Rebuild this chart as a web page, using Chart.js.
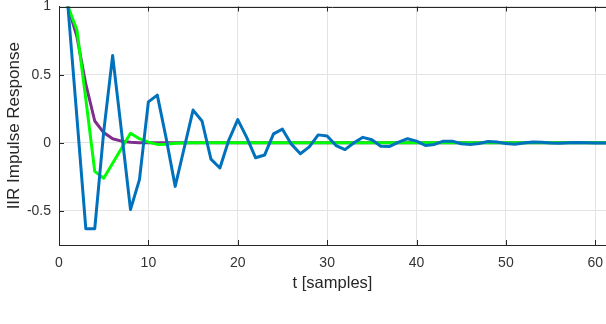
<!DOCTYPE html>
<html>
<head>
<meta charset="utf-8">
<script src="https://cdn.jsdelivr.net/npm/chart.js@4.4.1/dist/chart.umd.min.js"></script>
<style>
  html, body { margin: 0; padding: 0; background: #ffffff; }
  #wrap { width: 606px; height: 324px; }
</style>
</head>
<body>
<div id="wrap"><canvas id="c" width="606" height="324"></canvas></div>
<script>
// sample index (t)
const samples = [1,2,3,4,5,6,7,8,9,10,11,12,13,14,15,16,17,18,19,20,21,22,23,24,25,26,27,28,29,30,31,32,33,34,35,36,37,38,39,40,41,42,43,44,45,46,47,48,49,50,51,52,53,54,55,56,57,58,59,60,61,62];

// blue (oscillating) impulse response
const blueResponse = [1, 0.19, -0.63, -0.63, 0.08, 0.64, 0.08, -0.49, -0.27, 0.30,
  0.35, 0.03, -0.32, -0.04, 0.24, 0.16, -0.12, -0.185, 0.02, 0.17,
  0.04, -0.11, -0.09, 0.065, 0.10, -0.01, -0.08, -0.03, 0.058, 0.05,
  -0.02, -0.05, 0.0, 0.04, 0.022, -0.025, -0.027, 0.005, 0.03, 0.012,
  -0.02, -0.012, 0.012, 0.012, -0.007, -0.012, -0.005, 0.01, 0.006, -0.006,
  -0.01, -0.002, 0.005, 0.004, -0.002, -0.004, 0, 0.003, 0.001, -0.002,
  -0.001, 0];

// green impulse response
const greenResponse = [1, 0.83, 0.32, -0.21, -0.26, -0.15, -0.04, 0.07, 0.03, 0.005,
  -0.012, -0.01, -0.004, -0.001, 0, 0, 0, 0, 0, 0,
  0, 0, 0, 0, 0, 0, 0, 0, 0, 0,
  0, 0, 0, 0, 0, 0, 0, 0, 0, 0,
  0, 0, 0, 0, 0, 0, 0, 0, 0, 0,
  0, 0, 0, 0, 0, 0, 0, 0, 0, 0,
  0, 0];

// purple impulse response
const purpleResponse = [1, 0.78, 0.43, 0.16, 0.075, 0.03, 0.012, 0.004, 0.001, 0,
  0, 0, 0, 0, 0, 0, 0, 0, 0, 0,
  0, 0, 0, 0, 0, 0, 0, 0, 0, 0,
  0, 0, 0, 0, 0, 0, 0, 0, 0, 0,
  0, 0, 0, 0, 0, 0, 0, 0, 0, 0,
  0, 0, 0, 0, 0, 0, 0, 0, 0, 0,
  0, 0];

const xTickValues = [0, 10, 20, 30, 40, 50, 60];
const yTickValues = [-0.5, 0, 0.5, 1];

const toPoints = (ys) => samples.map((t, i) => ({ x: t, y: ys[i] }));

const axisColor = '#262626';
const gridColor = '#e3e3e3';
const font = "'Liberation Sans', Arial, Helvetica, sans-serif";

// inward tick marks and top box line, positioned through the scales
const boxTicks = {
  id: 'boxTicks',
  afterDatasetsDraw(chart) {
    const { ctx, chartArea: a, scales: { x, y } } = chart;
    ctx.save();
    ctx.strokeStyle = axisColor;
    ctx.lineWidth = 1;
    ctx.beginPath();
    const topY = Math.round(a.top) + 0.5;
    ctx.moveTo(a.left, topY); ctx.lineTo(a.right, topY);
    const len = 5;
    xTickValues.forEach(v => {
      const px = Math.round(x.getPixelForValue(v)) + 0.5;
      ctx.moveTo(px, a.bottom); ctx.lineTo(px, a.bottom - len);
      ctx.moveTo(px, a.top); ctx.lineTo(px, a.top + len);
    });
    yTickValues.forEach(v => {
      const py = Math.round(y.getPixelForValue(v)) + 0.5;
      ctx.moveTo(a.left, py); ctx.lineTo(a.left + len, py);
    });
    ctx.stroke();
    ctx.restore();
  }
};

new Chart(document.getElementById('c'), {
  type: 'line',
  data: {
    datasets: [
      { data: toPoints(blueResponse), borderColor: '#0072BD', borderWidth: 3, order: 0 },
      { data: toPoints(greenResponse), borderColor: '#00FF00', borderWidth: 3, order: 1 },
      { data: toPoints(purpleResponse), borderColor: '#7E2F8E', borderWidth: 3, order: 2 }
    ]
  },
  options: {
    responsive: false,
    animation: false,
    devicePixelRatio: 1,
    layout: { padding: { top: 6.5, right: 0, bottom: 0, left: 0 } },
    elements: {
      point: { radius: 0, hoverRadius: 0 },
      line: { tension: 0, fill: false, borderJoinStyle: 'round', borderCapStyle: 'round' }
    },
    plugins: { legend: { display: false }, tooltip: { enabled: false } },
    scales: {
      x: {
        type: 'linear',
        min: 0,
        max: 61.2,
        afterBuildTicks: (s) => { s.ticks = xTickValues.map(v => ({ value: v })); },
        afterFit: (s) => { s.height = 79; s.paddingLeft = 0; s.paddingRight = 0; },
        grid: { color: gridColor, drawTicks: false, lineWidth: 1 },
        border: { display: true, color: axisColor, width: 1 },
        ticks: { padding: 10, color: '#333333', font: { family: font, size: 14 }, maxRotation: 0, callback: (v) => String(v) },
        title: { display: true, text: 't [samples]', color: axisColor, font: { family: font, size: 16.5 }, padding: { top: 0, bottom: 31 } }
      },
      y: {
        type: 'linear',
        min: -0.75,
        max: 1,
        afterBuildTicks: (s) => { s.ticks = yTickValues.map(v => ({ value: v })); },
        afterFit: (s) => { s.width = 59; s.paddingTop = 0; s.paddingBottom = 0; },
        grid: { color: gridColor, drawTicks: false, lineWidth: 1 },
        border: { display: true, color: axisColor, width: 1 },
        ticks: { padding: 8, color: '#333333', font: { family: font, size: 14 }, callback: (v) => String(v) },
        title: { display: true, text: 'IIR Impulse Response', color: axisColor, font: { family: font, size: 17 }, padding: { top: 4, bottom: 0 } }
      }
    }
  },
  plugins: [boxTicks]
});
</script>
</body>
</html>
